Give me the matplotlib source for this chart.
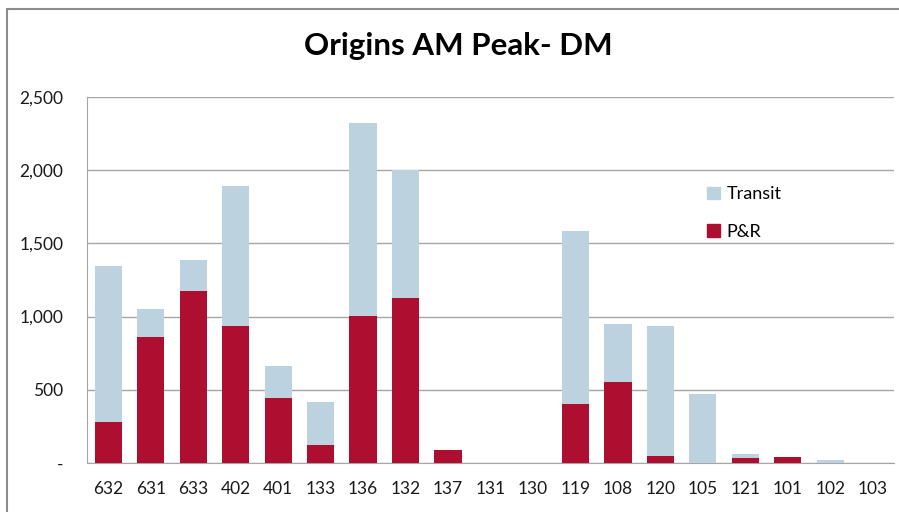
import numpy as np
import matplotlib
matplotlib.use('Agg')
import matplotlib.pyplot as plt
from matplotlib.patches import Patch, Rectangle
from matplotlib.ticker import FuncFormatter

plt.rcParams['font.family'] = ['Lato', 'DejaVu Sans']

# ── Data ──
zones   = ['632', '631', '633', '402', '401', '133', '136', '132', '137', '131',
           '130', '119', '108', '120', '105', '121', '101', '102', '103']
pnr     = [280, 858, 1175, 933, 444, 123, 1006, 1127, 91, 0,
           0, 403, 555, 48, 0, 32, 41, 0, 0]
transit = [1067, 194, 209, 961, 221, 291, 1318, 872, 0, 0,
           0, 1181, 392, 885, 471, 32, 0, 22, 0]

red  = '#AE0F31'
blue = '#BDD2DF'
grid = '#A6A6A6'

fig = plt.figure(figsize=(8.99, 5.12), dpi=100)
ax = fig.add_axes([87 / 899, 1 - 463 / 512, (894 - 87) / 899, (463 - 97) / 512])

x = np.arange(len(zones))
ax.bar(x, pnr, width=0.64, color=red, zorder=3, label='P&R')
ax.bar(x, transit, width=0.64, bottom=pnr, color=blue, zorder=3, label='Transit')

ax.set_xlim(-0.5, len(zones) - 0.5)
ax.set_ylim(0, 2500)
ax.set_yticks(np.arange(0, 2501, 500))
ax.yaxis.set_major_formatter(FuncFormatter(lambda v, p: '-' if v == 0 else f'{int(v):,}'))
ax.set_xticks(x)
ax.set_xticklabels(zones)
ax.grid(axis='y', color=grid, linewidth=1, zorder=0)
for s in ['top', 'right']:
    ax.spines[s].set_visible(False)
for s in ['left', 'bottom']:
    ax.spines[s].set_color(grid)
ax.tick_params(axis='both', length=0, labelsize=12.5, colors='#1a1a1a')
ax.tick_params(axis='y', pad=17)
ax.tick_params(axis='x', pad=13)

handles = [Patch(color=blue), Patch(color=red)]
ax.legend(handles, ['Transit', 'P&R'], loc='upper left', bbox_to_anchor=(0.748, 0.80),
          frameon=False, fontsize=13, handlelength=0.7, handleheight=0.7,
          labelspacing=1.2, handletextpad=0.4)

fig.text(458 / 899, 1 - 46 / 512, 'Origins AM Peak- DM', ha='center', va='center',
         fontsize=22.5, fontweight='bold', color='black')

# outer chart border (right and bottom sides fall outside the crop)
fig.patches.append(Rectangle((7 / 899, -0.1), 1.2, 1 - 9 / 512 + 0.1, transform=fig.transFigure,
                             fill=False, edgecolor='#8C8C8C', linewidth=1.5))

fig.savefig('out.png', dpi=100)
